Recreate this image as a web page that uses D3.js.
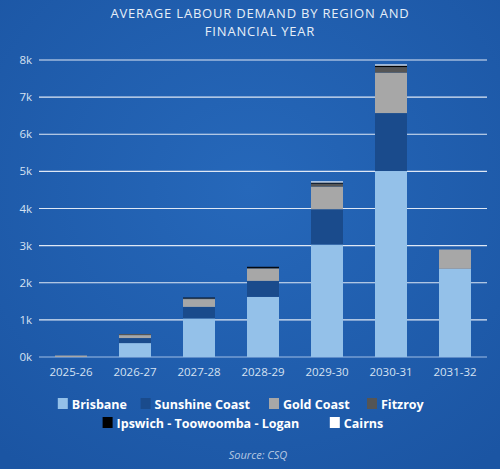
<!DOCTYPE html>
<html lang="en">
<head>
<meta charset="UTF-8">
<script src="https://cdn.jsdelivr.net/npm/d3@7"></script>
<style>
  body { margin:0; background:#1d5aa8; }
  text { font-family: "Open Sans", sans-serif; }
</style>
</head>
<body>
<div id="grafica"></div>
<script>
// data
years = ['2025-26','2026-27','2027-28','2028-29','2029-30','2030-31','2031-32']
series = ['Brisbane','Sunshine Coast','Gold Coast','Fitzroy','Ipswich - Toowoomba - Logan','Cairns']
brisbane = [0, 375, 1040, 1620, 3030, 5010, 2375]
sunshine = [0, 135, 310, 430, 950, 1560, 0]
goldCoast = [40, 80, 210, 330, 610, 1090, 520]
fitzroy = [0, 30, 20, 20, 80, 150, 0]
ipswich = [0, 0, 20, 30, 30, 40, 0]
cairns = [0, 0, 0, 0, 30, 30, 0]
yTicks = [0,1000,2000,3000,4000,5000,6000,7000,8000]
colores = ['#94c1e9','#1a4b8c','#a7a7a7','#555555','#000000','#ffffff']

ancho = 500
alto = 469
svg = d3.select('#grafica').append('svg').attr('width', ancho).attr('height', alto)

defs = svg.append('defs')
grad = defs.append('radialGradient').attr('id','bg').attr('cx','50%').attr('cy','40%').attr('r','75%')
grad.append('stop').attr('offset','0%').attr('stop-color','#2668ba')
grad.append('stop').attr('offset','100%').attr('stop-color','#1b55a3')
svg.append('rect').attr('width', ancho).attr('height', alto).attr('fill','url(#bg)')

svg.append('text').attr('x', 260).attr('y', 18).attr('text-anchor','middle')
  .attr('fill','#e6eef8').attr('font-size', 13).attr('letter-spacing', 0.8)
  .text('AVERAGE LABOUR DEMAND BY REGION AND')
svg.append('text').attr('x', 260).attr('y', 36).attr('text-anchor','middle')
  .attr('fill','#e6eef8').attr('font-size', 13).attr('letter-spacing', 0.8)
  .text('FINANCIAL YEAR')

x = d3.scaleBand().domain(years).range([39, 487]).paddingInner(0.5).paddingOuter(0.25)
y = d3.scaleLinear().domain([0, 8000]).range([357, 60])

svg.append('g').selectAll('line').data(yTicks).enter().append('line')
  .attr('x1', 39).attr('x2', 487)
  .attr('y1', d => y(d)).attr('y2', d => y(d))
  .attr('stroke', d => d === 0 ? '#9fbde6' : '#dfe8f5').attr('stroke-width', 1.2)

svg.append('g').selectAll('text').data(yTicks).enter().append('text')
  .attr('x', 32).attr('y', d => y(d) + 4).attr('text-anchor','end')
  .attr('fill','#d6e2f2').attr('font-size', 11.5)
  .text(d => (d / 1000) + 'k')

svg.append('g').selectAll('text').data(years).enter().append('text')
  .attr('x', d => x(d) + x.bandwidth() / 2).attr('y', 376).attr('text-anchor','middle')
  .attr('fill','#d6e2f2').attr('font-size', 11.5)
  .text(d => d)

tabla = years.map((a, i) => ({ year: a, s0: brisbane[i], s1: sunshine[i], s2: goldCoast[i], s3: fitzroy[i], s4: ipswich[i], s5: cairns[i] }))
stack = d3.stack().keys(['s0','s1','s2','s3','s4','s5'])(tabla)

svg.append('g').selectAll('g').data(stack).enter().append('g')
  .attr('fill', (d, i) => colores[i])
  .selectAll('rect').data(d => d).enter().append('rect')
  .attr('x', d => x(d.data.year))
  .attr('width', x.bandwidth())
  .attr('y', d => y(d[1]))
  .attr('height', d => y(d[0]) - y(d[1]))

// legend
filas = [[0,1,2,3],[4,5]]
filas.forEach(function(fila, r) {
  anchos = fila.map(i => series[i].length * 7.6 + 22)
  total = d3.sum(anchos)
  xx = 250 - total / 2
  fila.forEach(function(i, k) {
    g = svg.append('g').attr('transform', 'translate(' + xx + ',' + (404 + r * 19) + ')')
    g.append('rect').attr('x', 0).attr('y', -6).attr('width', 10).attr('height', 11).attr('fill', colores[i])
    g.append('text').attr('x', 14).attr('y', 4.5).attr('fill','#ffffff')
      .attr('font-size', 12.5).attr('font-weight','bold').text(series[i])
    xx += anchos[k]
  })
})

svg.append('text').attr('x', 258).attr('y', 459).attr('text-anchor','middle')
  .attr('fill','#b8c9e2').attr('font-size', 11).attr('font-style','italic')
  .text('Source: CSQ')
</script>
</body>
</html>
